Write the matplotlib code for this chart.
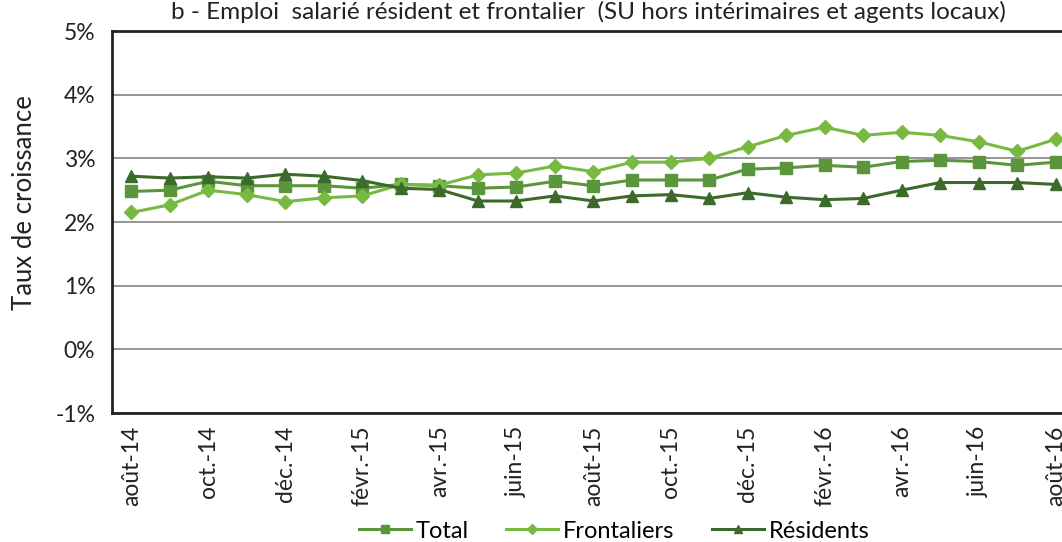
import matplotlib.pyplot as plt
import numpy as np

plt.rcParams['font.family'] = ['Lato', 'DejaVu Sans']

# monthly series, août-14 .. août-16 (growth rate, %)
months = ["août-14", "sept.-14", "oct.-14", "nov.-14", "déc.-14", "janv.-15",
          "févr.-15", "mars-15", "avr.-15", "mai-15", "juin-15", "juil.-15",
          "août-15", "sept.-15", "oct.-15", "nov.-15", "déc.-15", "janv.-16",
          "févr.-16", "mars-16", "avr.-16", "mai-16", "juin-16", "juil.-16",
          "août-16"]
total = [2.48, 2.50, 2.64, 2.57, 2.57, 2.57, 2.53, 2.59, 2.57, 2.53, 2.55, 2.64,
         2.57, 2.66, 2.66, 2.66, 2.83, 2.85, 2.89, 2.86, 2.95, 2.97, 2.95, 2.89,
         2.94]
frontaliers = [2.15, 2.27, 2.50, 2.43, 2.32, 2.38, 2.41, 2.59, 2.58, 2.74, 2.77,
               2.88, 2.79, 2.94, 2.94, 3.00, 3.18, 3.36, 3.49, 3.36, 3.41, 3.36,
               3.26, 3.11, 3.30]
residents = [2.72, 2.69, 2.71, 2.69, 2.75, 2.72, 2.65, 2.53, 2.51, 2.33, 2.33,
             2.41, 2.33, 2.41, 2.43, 2.37, 2.46, 2.39, 2.35, 2.37, 2.50, 2.62,
             2.62, 2.62, 2.59]

c_total = "#5b963c"
c_front = "#78b942"
c_res = "#3c6a2a"

x = np.arange(len(months))

fig = plt.figure(figsize=(10.62, 5.42), dpi=100)
ax = fig.add_axes([0.1055, 0.238, 0.9067, 0.7048])

ax.plot(x, total, color=c_total, lw=2.2, marker="s", ms=8.5, label="Total")
ax.plot(x, frontaliers, color=c_front, lw=2.2, marker="D", ms=7.5, label="Frontaliers")
ax.plot(x, residents, color=c_res, lw=2.2, marker="^", ms=9, label="Résidents")

ax.set_xlim(-0.5, len(months) - 0.5)
ax.set_ylim(-1, 5)
ax.set_yticks(range(-1, 6))
ax.set_yticklabels([f"{v}%" for v in range(-1, 6)])
ax.set_xticks(x[::2])
ax.set_xticklabels(months[::2], rotation=90)
ax.tick_params(length=0, colors="#222222", pad=8)
ax.tick_params(axis="y", labelsize=16.5, pad=12)
ax.tick_params(axis="x", labelsize=16.5, pad=9)
ax.grid(axis="y", color="#8c8c8c", lw=1.3)
ax.set_axisbelow(True)
for s in ax.spines.values():
    s.set_color("#222222")
    s.set_linewidth(2)

fig.text(25 / 1062, 1 - 203 / 542, "Taux de croissance", rotation=90,
         ha="center", va="center", fontsize=18.5, color="#222222")
fig.text(588 / 1062, 1 - 12 / 542,
         "b - Emploi  salarié résident et frontalier  (SU hors intérimaires et agents locaux)",
         ha="center", va="center", fontsize=17.5, color="#222222")

fig.legend(loc="center", bbox_to_anchor=(614 / 1062, 1 - 531 / 542), ncol=3, frameon=False,
           fontsize=17, handlelength=2.2, columnspacing=1.6, handletextpad=0.2,
           markerscale=0.7)

fig.savefig("out.png", dpi=100)
